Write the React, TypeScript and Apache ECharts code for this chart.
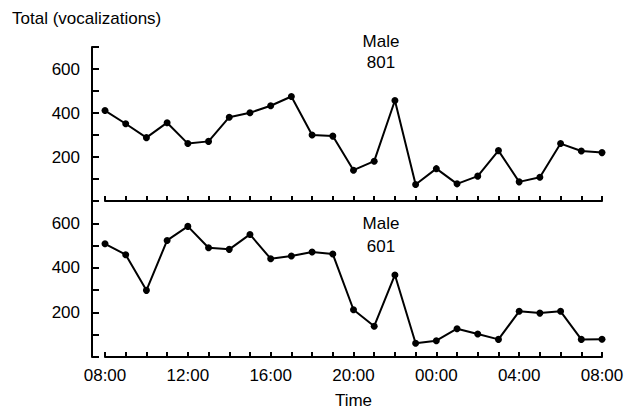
import React, { useEffect, useRef } from "react";
import * as echarts from "echarts";

const hours: string[] = [
  "08:00", "09:00", "10:00", "11:00", "12:00", "13:00", "14:00", "15:00",
  "16:00", "17:00", "18:00", "19:00", "20:00", "21:00", "22:00", "23:00",
  "00:00", "01:00", "02:00", "03:00", "04:00", "05:00", "06:00", "07:00", "08:00",
];
const male801: number[] = [411, 351, 288, 356, 261, 271, 381, 401, 433, 475, 300, 295, 140, 181, 457, 75, 147, 78, 113, 229, 87, 108, 261, 227, 220];
const male601: number[] = [508, 459, 299, 523, 586, 490, 483, 550, 441, 453, 471, 462, 212, 138, 368, 62, 73, 127, 103, 79, 205, 197, 205, 79, 80];
const yTickLabels: number[] = [200, 400, 600];

const FONT = "'Liberation Sans', Arial, Helvetica, sans-serif";

export default function App() {
  const ref = useRef<HTMLDivElement>(null);
  useEffect(() => {
    if (!ref.current) return;
    const chart = echarts.init(ref.current, null, { renderer: "svg" });
    const yAxisBase = (gridIndex: number) => ({
      type: "value" as const,
      gridIndex,
      min: 0,
      max: 700,
      interval: 100,
      offset: 13,
      axisLine: { show: true, lineStyle: { color: "#000", width: 2 } },
      axisTick: { show: true, inside: true, length: 7, lineStyle: { color: "#000", width: 2 } },
      splitLine: { show: false },
      axisLabel: {
        margin: 12,
        color: "#000",
        fontSize: 17,
        fontFamily: FONT,
        formatter: (v: number) => (yTickLabels.includes(v) ? String(v) : ""),
      },
    });
    const xAxisBase = (gridIndex: number, showLabel: boolean) => ({
      type: "category" as const,
      gridIndex,
      data: hours,
      boundaryGap: false,
      axisLine: { show: true, lineStyle: { color: "#000", width: 2 } },
      axisTick: { show: true, inside: true, length: 5, interval: 0, lineStyle: { color: "#000", width: 2 } },
      splitLine: { show: false },
      axisLabel: {
        show: showLabel,
        interval: 3,
        margin: 10,
        color: "#000",
        fontSize: 17,
        fontFamily: FONT,
      },
    });
    const seriesBase = {
      type: "line" as const,
      symbol: "circle",
      symbolSize: 7,
      lineStyle: { color: "#000", width: 2 },
      itemStyle: { color: "#000" },
    };
    chart.setOption({
      animation: false,
      textStyle: { fontFamily: FONT },
      grid: [
        { left: 105, right: 34, top: 47, height: 154 },
        { left: 105, right: 34, top: 201, height: 156 },
      ],
      xAxis: [
        xAxisBase(0, false),
        {
          ...xAxisBase(1, true),
          name: "Time",
          nameLocation: "middle",
          nameGap: 35,
          nameTextStyle: { color: "#000", fontSize: 17, fontFamily: FONT },
        },
      ],
      yAxis: [yAxisBase(0), yAxisBase(1)],
      series: [
        { ...seriesBase, xAxisIndex: 0, yAxisIndex: 0, data: male801 },
        { ...seriesBase, xAxisIndex: 1, yAxisIndex: 1, data: male601 },
      ],
      graphic: [
        {
          type: "text",
          left: 12,
          top: 10,
          style: { text: "Total (vocalizations)", fill: "#000", font: `17px ${FONT}` },
        },
        {
          type: "text",
          x: 381,
          y: 31,
          style: { text: "Male\n801", fill: "#000", font: `17px ${FONT}`, textAlign: "center", lineHeight: 21 },
        },
        {
          type: "text",
          x: 381,
          y: 212,
          style: { text: "Male\n601", fill: "#000", font: `17px ${FONT}`, textAlign: "center", lineHeight: 23 },
        },
      ],
    });
    return () => chart.dispose();
  }, []);
  return (
    <div
      ref={ref}
      style={{ position: "fixed", left: 0, top: 0, width: 636, height: 410, background: "#fff" }}
    />
  );
}
